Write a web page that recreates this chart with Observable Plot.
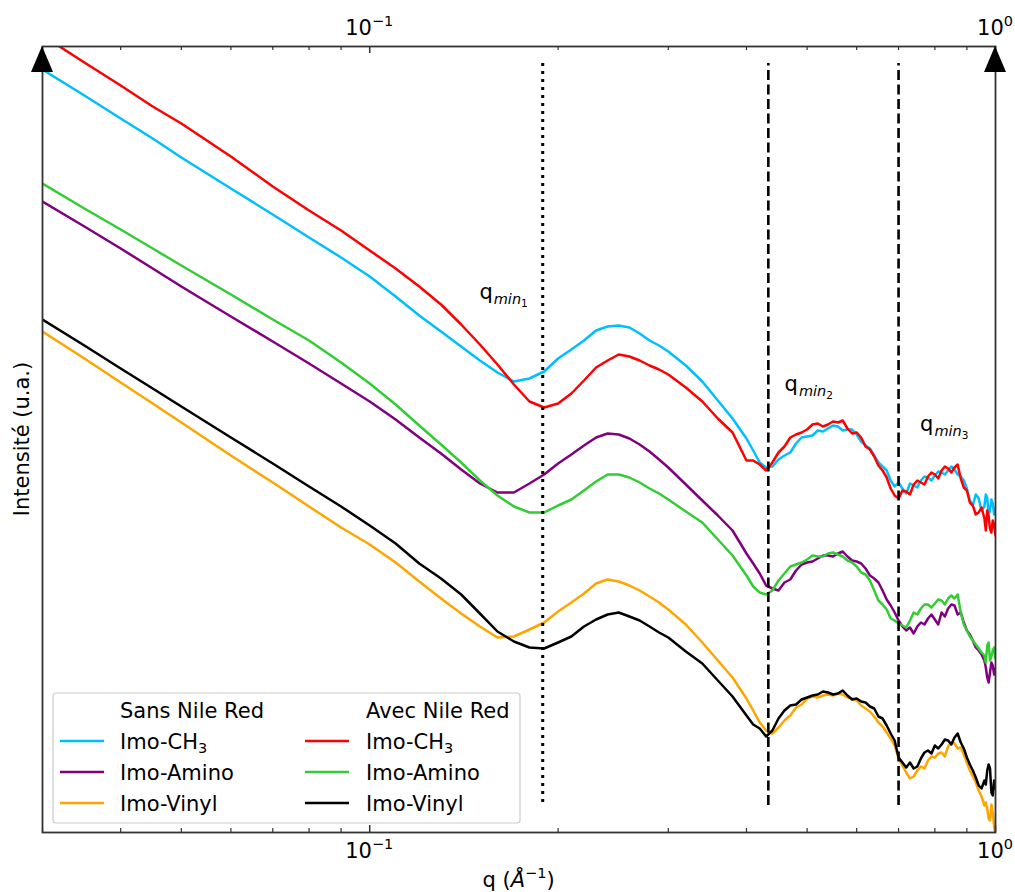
<!DOCTYPE html>
<html>
<head>
<meta charset="utf-8">
<script src="https://cdn.jsdelivr.net/npm/d3@7"></script>
<script src="https://cdn.jsdelivr.net/npm/@observablehq/plot@0.6"></script>
<style>
  html, body { margin: 0; padding: 0; background: #fff; }
  #chart { width: 1015px; height: 892px; }
  svg { font-family: "DejaVu Sans", sans-serif; }
</style>
</head>
<body>
<div id="chart"></div>
<script>
// q (Å^-1) sampling grid shared by all curves
const q = [0.03,0.035,0.04,0.045,0.05,0.06,0.07,0.08,0.09,0.10,0.11,0.12,0.13,0.14,0.15,0.16,0.17,0.18,0.19,0.20,0.21,0.22,0.23,0.24,0.25,0.26,0.27,0.28,0.29,0.30,0.32,0.34,0.36,0.38,0.40,0.41,0.42,0.43,0.44,0.45,0.46,0.48,0.50,0.52,0.54,0.56,0.58,0.60,0.62,0.64,0.66,0.68,0.69,0.70,0.71,0.72,0.74,0.76,0.78,0.80,0.82,0.84,0.86,0.88,0.90,0.92,0.94,0.96,0.97,0.98,0.99,1.00];
// extra samples where the measured curves are noisy (high q)
const qExtra = [0.47,0.49,0.51,0.53,0.55,0.57,0.59,0.61,0.63,0.65,0.67,0.73,0.75,0.77,0.79,0.81,0.83,0.85,0.87,0.89,0.91,0.93,0.95,0.965,0.975,0.985,0.995];

// Intensities (arbitrary units, offset curves)
const sansCH3 = [763,737,714,694,675,644,618,595,575,556,536,517,501,486,472,460,451,454,461,474,483,492,502,506,507,505,499,492,487,481,467,451,432,414,394,382,370,365,366,373,377,389,396,402,404,406,403,398,387,377,366,352,346,350,344,339,347,352,355,357,360,362,363,356,344,327,334,326,335,322,329,324];
const sansCH3Extra = [380,395,397,401,407,402,403,391,384,370,362,349,345,356,352,361,358,366,358,352,332,338,322,338,318,333,318];
const sansAmino = [631,606,584,564,546,516,491,469,449,431,413,395,379,363,349,340,340,349,358,369,378,387,395,399,398,394,388,381,373,365,348,332,317,302,279,269,259,247,244,242,250,262,270,274,277,279,276,271,264,254,242,227,220,212,206,202,199,210,214,213,220,224,227,220,202,192,182,172,155,160,167,164];
const sansAminoExtra = [253,268,271,277,276,281,272,269,257,250,233,205,206,208,218,208,216,228,218,210,198,185,178,165,150,170,158];
const sansVinyl = [501,474,450,429,410,377,350,326,305,288,270,251,234,219,206,195,196,203,210,221,230,239,249,253,251,247,242,236,230,223,208,190,172,155,134,122,110,102,99,105,112,125,134,135,138,139,135,132,124,116,106,94,87,74,67,60,56,66,72,75,80,86,89,85,70,56,42,27,24,12,20,-3];
const sansVinylExtra = [117,128,136,137,137,138,134,127,121,110,100,54,62,64,76,79,76,90,84,78,62,50,36,30,14,28,6];
const avecCH3 = [797,770,747,726,709,676,646,622,602,582,564,546,528,508,488,468,448,431,425,429,439,452,465,472,478,476,472,467,463,458,445,431,414,400,372,372,368,362,370,380,386,398,403,409,408,410,404,400,386,376,362,344,337,334,342,341,348,350,356,358,362,364,365,354,342,327,320,314,322,304,312,297];
const avecCH3Extra = [395,400,408,406,411,412,399,395,383,367,355,338,352,348,360,354,366,360,368,345,330,318,325,302,316,300,308];
const avecAmino = [649,624,603,584,567,538,513,492,470,449,428,407,388,370,352,337,326,320,320,327,333,342,351,358,358,355,350,344,339,333,321,310,293,277,257,246,240,238,242,252,259,268,273,276,279,278,272,266,258,242,228,214,212,209,207,205,220,224,228,229,232,234,234,220,202,192,184,177,187,172,182,174];
const avecAminoExtra = [266,270,277,276,280,276,270,260,252,232,223,212,218,228,225,233,228,237,238,208,196,188,180,170,190,176,185];
const avecVinyl = [513,487,464,444,426,395,369,346,326,307,289,269,254,238,219,201,191,185,184,190,196,206,213,218,220,216,212,206,200,195,181,169,152,136,117,108,104,96,102,114,122,128,135,138,140,139,137,134,130,124,114,99,92,75,70,65,64,74,82,87,88,92,95,90,75,62,47,52,62,64,37,44];
const avecVinylExtra = [127,133,137,141,138,142,133,131,126,116,107,70,66,80,79,84,93,88,99,84,68,55,44,48,68,40,52];

const seriesNames = ["Imo-CH3","Imo-Amino","Imo-Vinyl"];
const groups = ["Sans Nile Red","Avec Nile Red"];
const sansColors = ["#00bfff","#800080","#ffa500"];
const avecColors = ["#ff0000","#32cd32","#000000"];
const sansValues = [[sansCH3, sansCH3Extra], [sansAmino, sansAminoExtra], [sansVinyl, sansVinylExtra]];
const avecValues = [[avecCH3, avecCH3Extra], [avecAmino, avecAminoExtra], [avecVinyl, avecVinylExtra]];

// q_min positions (Å^-1)
const qminDotted = [0.189];
const qminDashed = [0.4335, 0.70];
const qminLabels = [
  {q: 0.150, v: 533, idx: "1"},
  {q: 0.461, v: 441, idx: "2"},
  {q: 0.759, v: 401, idx: "3"}
];

const majorTicks = [0.1, 1];
const majorLabels = [["10","\u22121"],["10","0"]];
const minorTicks = [0.03,0.04,0.05,0.06,0.07,0.08,0.09,0.2,0.3,0.4,0.5,0.6,0.7,0.8,0.9];

const yTop = 786;

function toRows([main, extra]) {
  const rows = q.map((qq, j) => ({q: qq, v: main[j]}))
    .concat(qExtra.map((qq, j) => ({q: qq, v: extra[j]})));
  return rows.sort((a, b) => a.q - b.q);
}

const series = [];
sansValues.forEach((vals, i) => series.push({name: seriesNames[i], group: groups[0], color: sansColors[i], rows: toRows(vals)}));
avecValues.forEach((vals, i) => series.push({name: seriesNames[i], group: groups[1], color: avecColors[i], rows: toRows(vals)}));

const axisColor = "#333";

const plot = Plot.plot({
  width: 1015,
  height: 892,
  marginLeft: 42,
  marginRight: 20,
  marginTop: 46,
  marginBottom: 60,
  style: {fontFamily: "DejaVu Sans", background: "#fff", overflow: "visible"},
  x: {type: "log", domain: [0.03, 1], axis: null},
  y: {domain: [0, yTop], axis: null},
  marks: [
    ...series.map(s => Plot.line(s.rows, {x: "q", y: "v", stroke: s.color, strokeWidth: 2.5, clip: true})),
    Plot.ruleX(qminDotted, {x: d => d, y1: 30, y2: 769, stroke: "#000", strokeWidth: 3, strokeDasharray: "3,5"}),
    Plot.ruleX(qminDashed, {x: d => d, y1: 27, y2: 769, stroke: "#000", strokeWidth: 2.6, strokeDasharray: "10,4.5"}),
    // inward ticks bottom & top
    Plot.ruleX(majorTicks, {x: d => d, y1: 0, y2: 7, stroke: axisColor, strokeWidth: 1.5}),
    Plot.ruleX(minorTicks, {x: d => d, y1: 0, y2: 4, stroke: axisColor, strokeWidth: 1.2}),
    Plot.ruleX(majorTicks, {x: d => d, y1: yTop, y2: yTop - 7, stroke: axisColor, strokeWidth: 1.5}),
    Plot.ruleX(minorTicks, {x: d => d, y1: yTop, y2: yTop - 4, stroke: axisColor, strokeWidth: 1.2}),
    Plot.frame({stroke: axisColor, strokeWidth: 1.8})
  ]
});

document.getElementById("chart").appendChild(plot);

const sx = v => plot.scale("x").apply(v);
const sy = v => plot.scale("y").apply(v);
const svg = d3.select(plot);
const FS = 21;

// tick labels (bottom & top)
majorTicks.forEach((t, i) => {
  [858, 35].forEach(base => {
    const tx = svg.append("text")
      .attr("x", sx(t)).attr("y", base)
      .attr("text-anchor", "middle")
      .attr("font-size", FS).attr("fill", "#000");
    tx.append("tspan").text(majorLabels[i][0]);
    tx.append("tspan").attr("font-size", 14.5).attr("dy", -9).text(majorLabels[i][1]);
  });
});

// arrows on top of the vertical spines
[0.03, 1].forEach(t => {
  const x = sx(t), y = sy(yTop);
  svg.append("polygon")
    .attr("points", `${x - 11},${y + 26} ${x + 11},${y + 26} ${x},${y}`)
    .attr("fill", "#000");
});

// q_min labels
qminLabels.forEach(d => {
  const t = svg.append("text")
    .attr("x", sx(d.q)).attr("y", sy(d.v))
    .attr("text-anchor", "start")
    .attr("font-size", FS).attr("fill", "#000");
  t.append("tspan").text("q");
  t.append("tspan").attr("font-size", 14.5).attr("font-style", "italic").attr("dy", 5).attr("dx", 1).text("min");
  t.append("tspan").attr("font-size", 10.5).attr("dy", 3).text(d.idx);
});

// axis labels
const xl = svg.append("text")
  .attr("x", (sx(0.03) + sx(1)) / 2).attr("y", 887)
  .attr("text-anchor", "middle").attr("font-size", FS).attr("fill", "#000");
xl.append("tspan").text("q (");
xl.append("tspan").attr("font-style", "italic").text("Å");
xl.append("tspan").attr("font-size", 14.5).attr("dy", -9).text("\u22121");
xl.append("tspan").attr("dy", 9).text(")");

svg.append("text")
  .attr("transform", `translate(29,${(sy(0) + sy(yTop)) / 2}) rotate(-90)`)
  .attr("text-anchor", "middle").attr("font-size", FS).attr("fill", "#000")
  .text("Intensité (u.a.)");

// legend
const lg = svg.append("g");
lg.append("rect")
  .attr("x", 53).attr("y", 693).attr("width", 467).attr("height", 130)
  .attr("rx", 3).attr("fill", "#fff").attr("fill-opacity", 0.85)
  .attr("stroke", "#cccccc").attr("stroke-width", 1.2);
const colX = [{line: 60, text: 120}, {line: 305, text: 366}];
const rowY = [710, 741, 772, 803];
const colColors = [sansColors, avecColors];
groups.forEach((g, c) => {
  lg.append("text").attr("x", colX[c].text).attr("y", rowY[0] + 8)
    .attr("text-anchor", "start")
    .attr("font-size", FS).attr("fill", "#000").text(g);
  seriesNames.forEach((n, r) => {
    const y = rowY[r + 1];
    lg.append("line")
      .attr("x1", colX[c].line).attr("x2", colX[c].line + 44)
      .attr("y1", y).attr("y2", y)
      .attr("stroke", colColors[c][r]).attr("stroke-width", 2.5);
    const t = lg.append("text").attr("x", colX[c].text).attr("y", y + 8)
      .attr("text-anchor", "start")
      .attr("font-size", FS).attr("fill", "#000");
    if (n.endsWith("3")) {
      t.append("tspan").text(n.slice(0, -1));
      t.append("tspan").attr("font-size", 14.5).attr("dy", 4).text("3");
    } else {
      t.text(n);
    }
  });
});
</script>
</body>
</html>
